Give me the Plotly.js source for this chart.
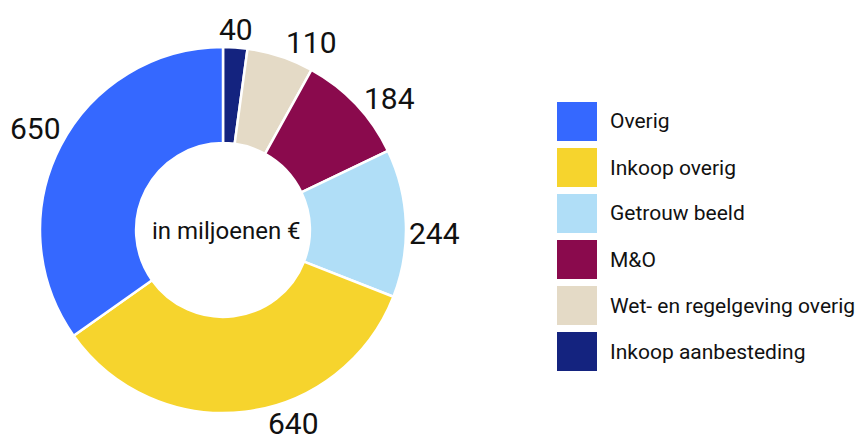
<!DOCTYPE html>
<html>
<head>
<meta charset="utf-8">
<script src="https://cdn.plot.ly/plotly-3.0.1.min.js"></script>
<style>html,body{margin:0;padding:0;background:#fff}#chart{width:860px;height:437px}</style>
</head>
<body>
<div id="chart"></div>
<script>
const categories = ["Overig", "Inkoop overig", "Getrouw beeld", "M&O", "Wet- en regelgeving overig", "Inkoop aanbesteding"];
const values = [650, 640, 244, 184, 110, 40];
const colors = ["#3568FF", "#F6D42D", "#B0DEF7", "#8A0A4D", "#E4DAC6", "#14237F"];
const centerText = "in miljoenen €";

// layout / style settings (not data)
const W = 860, H = 437;
const cx = 223, cy = 230, R = 183;
const labelNudgeDeg = [1, -13, 3, 5, 7, 0]; // small angular nudges of value labels

// slices run clockwise from 12 o'clock in reverse legend order
const order = categories.map((_, i) => categories.length - 1 - i);
const trace = {
  type: "pie",
  labels: order.map(i => categories[i]),
  values: order.map(i => values[i]),
  sort: false,
  direction: "clockwise",
  rotation: 0,
  hole: 0.475,
  marker: {colors: order.map(i => colors[i]), line: {color: "#ffffff", width: 2.5}},
  textinfo: "none",
  showlegend: false,
  hoverinfo: "label+value",
  automargin: false,
  domain: {x: [(cx - R) / W, (cx + R) / W], y: [(H - cy - R) / H, (H - cy + R) / H]}
};

const shapes = [];
const annotations = [{
  text: centerText, x: (cx + 3) / W, y: 1 - (cy + 1) / H, xref: "paper", yref: "paper",
  showarrow: false, font: {family: "Roboto", size: 24, color: "#111111"},
  xanchor: "center", yanchor: "middle"
}];

// value labels outside the ring, at each slice's mid-angle
const total = values.reduce((a, b) => a + b, 0);
let cum = 0;
order.forEach(i => {
  const mid = (cum + values[i] / 2) / total * 360 + labelNudgeDeg[i];
  cum += values[i];
  const t = mid * Math.PI / 180;
  const s = Math.sin(t), c = Math.cos(t);
  const r = R + 6 + 22 * Math.abs(s) + 10 * Math.abs(c);
  let px = cx + r * s, py = cy - r * c;
  py = Math.min(py, H - 13);
  annotations.push({text: String(values[i]), xref: "paper", yref: "paper",
    x: px / W, y: 1 - py / H, xanchor: "center", yanchor: "middle", showarrow: false,
    font: {family: "Roboto", size: 30, color: "#111111"}});
});

// legend
const legX = 557, legY0 = 102, legSize = 39, legPitch = 46;
categories.forEach((cat, i) => {
  const y0 = legY0 + i * legPitch;
  shapes.push({type: "rect", xref: "paper", yref: "paper",
    x0: legX / W, x1: (legX + 40) / W, y0: 1 - y0 / H, y1: 1 - (y0 + legSize) / H,
    fillcolor: colors[i], line: {width: 0}});
  annotations.push({text: cat, xref: "paper", yref: "paper", x: 608 / W, y: 1 - (y0 + legSize / 2) / H,
    xanchor: "left", yanchor: "middle", showarrow: false,
    font: {family: "Roboto", size: 21, color: "#111111"}});
});

Plotly.newPlot("chart", [trace], {
  width: W, height: H,
  margin: {l: 0, r: 0, t: 0, b: 0},
  paper_bgcolor: "#ffffff",
  showlegend: false,
  shapes: shapes,
  annotations: annotations
}, {displayModeBar: false, staticPlot: true});
</script>
</body>
</html>
